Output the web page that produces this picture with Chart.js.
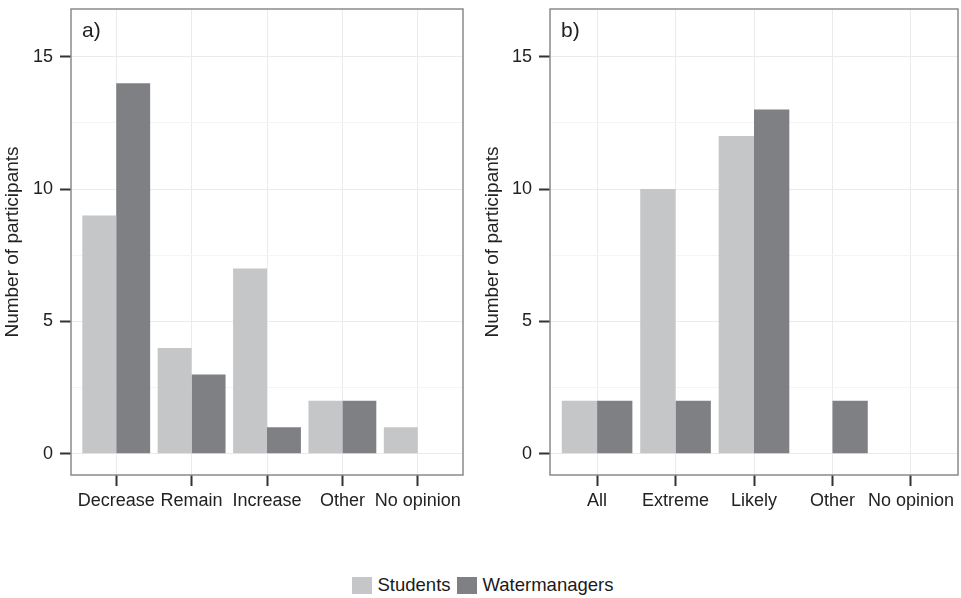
<!DOCTYPE html>
<html>
<head>
<meta charset="utf-8">
<script src="https://cdn.jsdelivr.net/npm/chart.js@4/dist/chart.umd.min.js"></script>
<style>
  html, body { margin: 0; padding: 0; background: #ffffff; }
  body { width: 961px; height: 598px; position: relative; overflow: hidden; font-family: "Liberation Sans", Arial, sans-serif; }
  .panel { position: absolute; top: 0; }
  #wrapA { left: 0; width: 480px; height: 520px; }
  #wrapB { left: 480px; width: 481px; height: 520px; }
  #legend { position: absolute; left: 5px; width: 961px; top: 574px; display: flex; justify-content: center; align-items: center; font-size: 18.5px; color: #1a1a1a; }
  .sw { display: inline-block; width: 20px; height: 17px; margin-right: 6px; }
  .lab { margin-right: 6px; line-height: 22px; }
</style>
</head>
<body>
<div id="wrapA" class="panel"><canvas id="chartA" width="480" height="520"></canvas></div>
<div id="wrapB" class="panel"><canvas id="chartB" width="481" height="520"></canvas></div>
<div id="legend"></div>
<script>
// ---- data ----
const categoriesA = ["Decrease", "Remain", "Increase", "Other", "No opinion"];
const studentsA = [9, 4, 7, 2, 1];
const managersA = [14, 3, 1, 2, 0];

const categoriesB = ["All", "Extreme", "Likely", "Other", "No opinion"];
const studentsB = [2, 10, 12, 0, 0];
const managersB = [2, 2, 13, 2, 0];

const seriesNames = ["Students", "Watermanagers"];
const yTicks = [0, 5, 10, 15];
const yMinorTicks = [2.5, 7.5, 12.5];
const panelLabels = ["a)", "b)"];

// ---- style ----
const FONT = "'Liberation Sans', Arial, sans-serif";
const colors = ["#c5c6c8", "#7f8084"];
const textColor = "#222222";

function toPoints(vals) { return vals.map((v, i) => ({ x: i + 1, y: v })); }

function makeChart(id, cats, s1, s2, label, axisWidth, padRight) {
  const allY = yTicks.concat(yMinorTicks).sort((a, b) => a - b);
  const panelPlugin = {
    id: 'panelDeco' + id,
    afterDraw(chart) {
      const { ctx, chartArea: a } = chart;
      ctx.save();
      ctx.strokeStyle = '#8a8a8a';
      ctx.lineWidth = 1.5;
      ctx.strokeRect(a.left, a.top, a.right - a.left, a.bottom - a.top);
      ctx.fillStyle = textColor;
      ctx.font = "21px " + FONT;
      ctx.textBaseline = 'middle';
      ctx.textAlign = 'left';
      ctx.fillText(label, a.left + 11, a.top + 22);
      ctx.restore();
    }
  };
  return new Chart(document.getElementById(id), {
    type: 'bar',
    data: {
      datasets: [
        { label: seriesNames[0], data: toPoints(s1), backgroundColor: colors[0], borderWidth: 0 },
        { label: seriesNames[1], data: toPoints(s2), backgroundColor: colors[1], borderWidth: 0 }
      ]
    },
    options: {
      responsive: false,
      animation: false,
      devicePixelRatio: 1,
      layout: { padding: { top: 9, right: padRight, left: 0, bottom: 0 } },
      datasets: { bar: { categoryPercentage: 0.9, barPercentage: 1.0 } },
      plugins: { legend: { display: false }, tooltip: { enabled: false } },
      scales: {
        x: {
          type: 'linear',
          min: 0.4,
          max: 5.6,
          offset: false,
          afterBuildTicks(scale) { scale.ticks = cats.map((c, i) => ({ value: i + 1 })); },
          afterFit(scale) { scale.height = 45; scale.paddingLeft = 0; scale.paddingRight = 0; },
          ticks: {
            autoSkip: false,
            maxRotation: 0,
            padding: 4,
            color: textColor,
            font: { family: FONT, size: 18 },
            callback: (v) => cats[Math.round(v) - 1] || ''
          },
          grid: { offset: false, color: '#ebebeb', lineWidth: 1, drawTicks: true, tickLength: 11, tickColor: '#333333', tickWidth: 2 },
          border: { display: false }
        },
        y: {
          min: -0.8,
          max: 16.8,
          afterBuildTicks(scale) { scale.ticks = allY.map(v => ({ value: v })); },
          afterFit(scale) { scale.width = axisWidth; scale.paddingTop = 0; scale.paddingBottom = 0; },
          ticks: {
            autoSkip: false,
            padding: 7,
            color: textColor,
            font: { family: FONT, size: 18 },
            callback: (v) => yTicks.includes(v) ? String(v) : ''
          },
          grid: {
            color: (ctx) => (ctx.tick && yMinorTicks.includes(ctx.tick.value)) ? '#f4f4f4' : '#ebebeb',
            lineWidth: 1,
            drawTicks: true,
            tickLength: 11,
            tickColor: (ctx) => (ctx.tick && yMinorTicks.includes(ctx.tick.value)) ? 'rgba(0,0,0,0)' : '#333333',
            tickWidth: 2
          },
          border: { display: false },
          title: {
            display: true,
            text: 'Number of participants',
            color: textColor,
            font: { family: FONT, size: 19 },
            padding: { top: 1, bottom: 0 }
          }
        }
      }
    },
    plugins: [panelPlugin]
  });
}

makeChart('chartA', categoriesA, studentsA, managersA, panelLabels[0], 71, 17);
makeChart('chartB', categoriesB, studentsB, managersB, panelLabels[1], 70, 3);

// legend
const legend = document.getElementById('legend');
seriesNames.forEach((name, i) => {
  const sw = document.createElement('span');
  sw.className = 'sw';
  sw.style.background = colors[i];
  const lab = document.createElement('span');
  lab.className = 'lab';
  lab.textContent = name;
  legend.appendChild(sw);
  legend.appendChild(lab);
});
</script>
</body>
</html>
